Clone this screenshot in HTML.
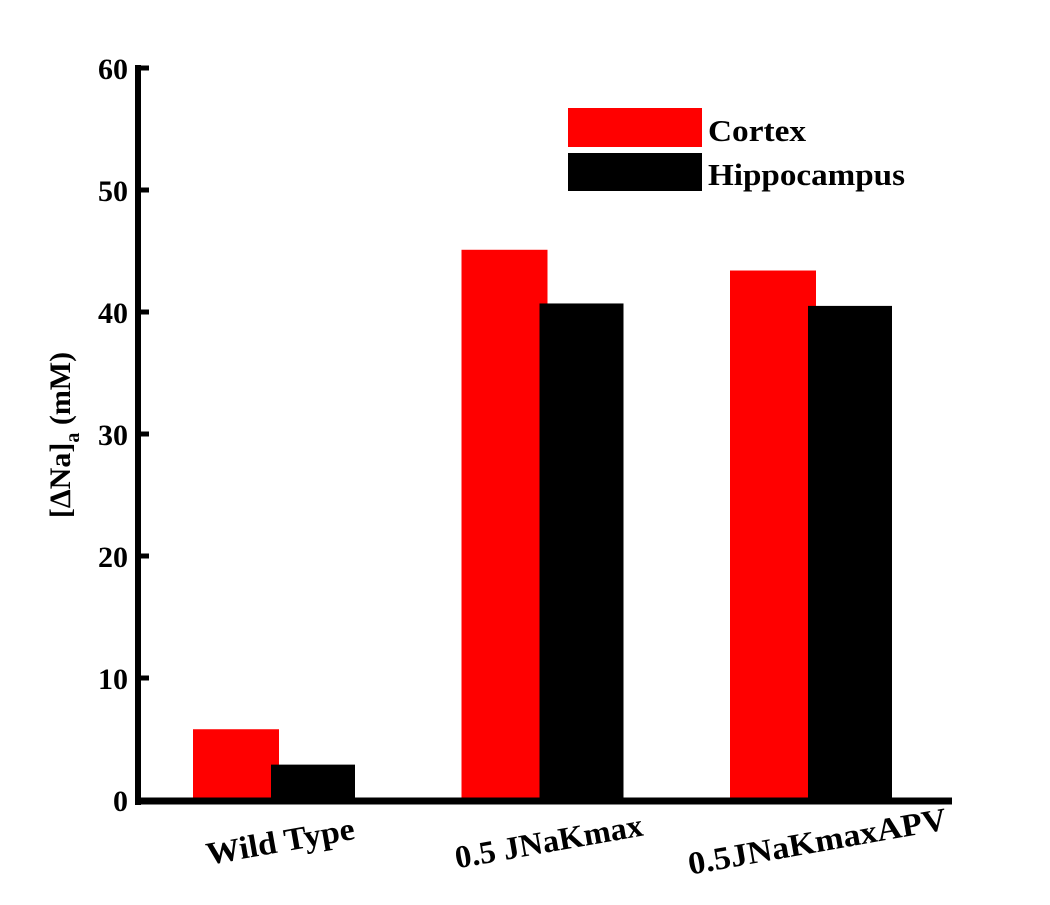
<!DOCTYPE html>
<html><head><meta charset="utf-8"><style>
body{margin:0;background:#fff}
svg text{font-family:"Liberation Serif",serif;font-weight:bold;fill:#000}
</style></head><body>
<svg id="chart" width="1050" height="900" xmlns="http://www.w3.org/2000/svg"></svg>
<script>
const categories=["Wild Type","0.5 JNaKmax","0.5JNaKmaxAPV"];
const cortex=[5.8,45.1,43.4];
const hippocampus=[2.9,40.7,40.5];
const yTicks=[0,10,20,30,40,50,60];
const labelWidths=[150,190,262];
const svg=document.getElementById('chart');
const NS='http://www.w3.org/2000/svg';
const x0=138,x1=952,yBase=800,yTop=68,yMax=60;
const y=v=>yBase-(v/yMax)*(yBase-yTop);
const groupX=i=>274+i*268.5;
function mk(tag,attrs,parent){const e=document.createElementNS(NS,tag);for(const k in attrs)e.setAttribute(k,attrs[k]);(parent||svg).appendChild(e);return e;}
categories.forEach((c,i)=>{
  const r=mk('rect',{x:groupX(i)-81,y:y(cortex[i]),width:86,height:yBase-y(cortex[i]),fill:'#ff0000'});
  
  
  const h=mk('rect',{x:groupX(i)-3,y:y(hippocampus[i]),width:84,height:yBase-y(hippocampus[i]),fill:'#000'});
  
  
  const cx=groupX(i)+6;
  const t=mk('text',{x:cx,y:852,'text-anchor':'middle','font-size':32,textLength:labelWidths[i],lengthAdjust:'spacingAndGlyphs',transform:`rotate(-10 ${cx} 840)`});
  t.textContent=c;
  
  
});
const ya=mk('line',{x1:x0,y1:yTop-3,x2:x0,y2:yBase+5,stroke:'#000','stroke-width':6});


const xa=mk('line',{x1:x0-3,y1:yBase+1,x2:x1,y2:yBase+1,stroke:'#000','stroke-width':7});


yTicks.forEach(v=>{
  const l=mk('line',{x1:x0,y1:y(v),x2:x0+11,y2:y(v),stroke:'#000','stroke-width':5});
  
  
  const t=mk('text',{x:x0-10,y:y(v)+11,'text-anchor':'end','font-size':30});
  t.textContent=v;
  
  
});
const yl=mk('text',{x:70,y:435,'text-anchor':'middle','font-size':30,transform:'rotate(-90 70 435)'});
yl.innerHTML='[ΔNa]<tspan font-size="20" dy="9">a</tspan><tspan dy="-9"> (mM)</tspan>';


const lg=mk('g',{});


const r1=mk('rect',{x:568,y:108,width:134,height:39,fill:'#ff0000'},lg);


const r2=mk('rect',{x:568,y:153,width:134,height:38,fill:'#000'},lg);


const t1=mk('text',{x:708,y:141,'font-size':31,textLength:98,lengthAdjust:'spacingAndGlyphs'},lg);t1.textContent='Cortex';


const t2=mk('text',{x:708,y:185,'font-size':31,textLength:197,lengthAdjust:'spacingAndGlyphs'},lg);t2.textContent='Hippocampus';


</script>
</body></html>
